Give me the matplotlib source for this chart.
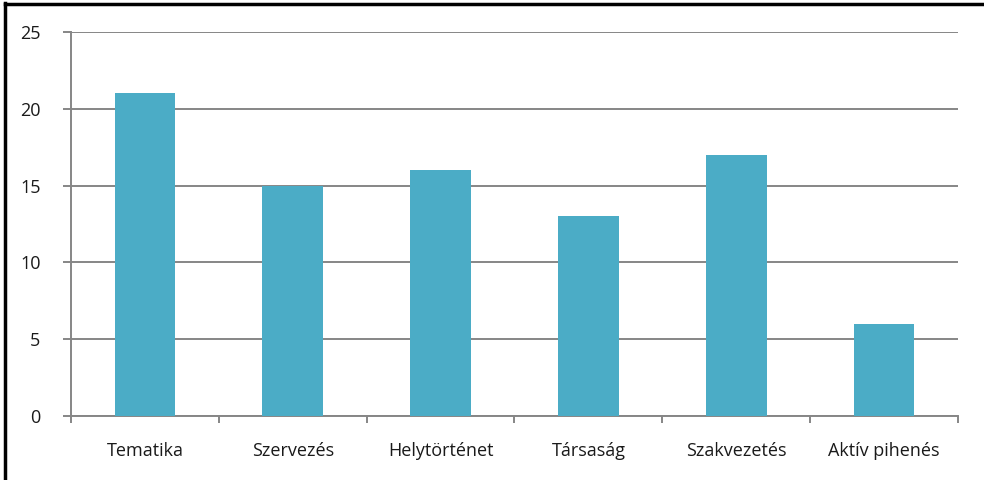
import matplotlib

matplotlib.use("Agg")
import matplotlib.pyplot as plt
from matplotlib.lines import Line2D
import numpy as np

categories = ["Tematika", "Szervezés", "Helytörténet", "Társaság", "Szakvezetés", "Aktív pihenés"]
values = [21, 15, 16, 13, 17, 6]
yticks = [0, 5, 10, 15, 20, 25]

plt.rcParams["font.family"] = ["Open Sans", "DejaVu Sans"]

fig = plt.figure(figsize=(9.84, 4.8), dpi=100)
ax = fig.add_axes([71 / 984, 64 / 480, 887 / 984, 384 / 480])

x = np.arange(len(categories))
ax.bar(x, values, width=0.41, color="#4BACC6", zorder=3)

ax.set_xlim(-0.5, len(categories) - 0.5)
ax.set_ylim(0, 25)
ax.set_yticks(yticks)
ax.set_yticklabels([str(v) for v in yticks], fontsize=13, color="#1a1a1a")
ax.set_xticks(x)
ax.set_xticklabels(categories, fontsize=13, color="#1a1a1a")
ax.set_xticks(np.arange(-0.5, len(categories)), minor=True)

ax.grid(True, axis="y", color="#868686", linewidth=1.4, zorder=0)
for side in ["top", "right"]:
    ax.spines[side].set_visible(False)
for side in ["left", "bottom"]:
    ax.spines[side].set_color("#868686")
    ax.spines[side].set_linewidth(1.4)

ax.tick_params(axis="y", length=6, width=1.4, color="#868686", pad=16)
ax.tick_params(axis="x", which="major", length=0, pad=19)
ax.tick_params(axis="x", which="minor", length=5, width=1.4, color="#868686")

# frame drawn only on the left and top edges
fig.add_artist(Line2D([5 / 984, 5 / 984], [0, 1 - 3 / 480], color="black", linewidth=2.5))
fig.add_artist(Line2D([5 / 984, 1], [1 - 4 / 480, 1 - 4 / 480], color="black", linewidth=2.5))

fig.savefig("out.png", dpi=100)
